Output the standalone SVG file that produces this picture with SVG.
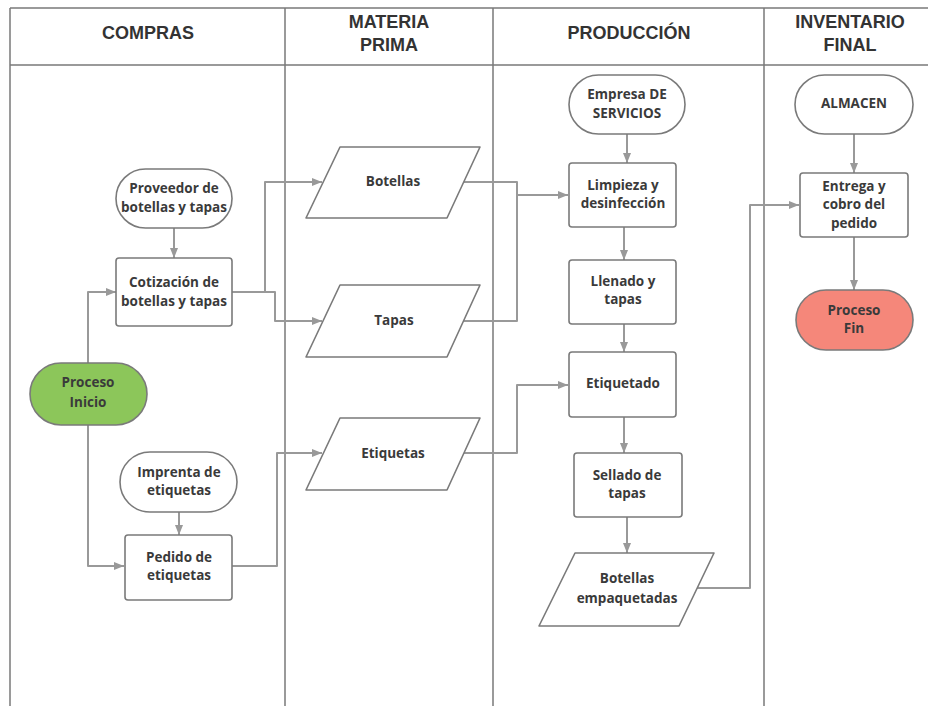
<svg xmlns="http://www.w3.org/2000/svg" width="928" height="706" viewBox="0 0 928 706">
<defs>
<style>
.lane{stroke:#7a7a7a;stroke-width:1.5;fill:none}
.hd{font-family:"Liberation Sans",Arial,sans-serif;font-weight:700;font-size:18px;fill:#333;text-anchor:middle}
.nd{fill:#fff;stroke:#7a7a7a;stroke-width:1.6;stroke-linejoin:round}
.tx{font-family:"Open Sans","Liberation Sans",sans-serif;font-weight:700;font-size:13.5px;fill:#3a3a3a;text-anchor:middle}
.cn{fill:none;stroke:#999;stroke-width:2;stroke-linejoin:round}
</style>
<marker id="ar" viewBox="0 0 10 10" refX="10" refY="5" markerWidth="10" markerHeight="10" markerUnits="userSpaceOnUse" orient="auto">
<path d="M0,1 L10,5 L0,9 Z" fill="#999"/>
</marker>
</defs>
<rect width="928" height="706" fill="#fff"/>
<g id="lanes">
<path class="lane" d="M10,8 H928 M10,65 H928 M10,8 V706 M285,8 V706 M493,8 V706 M764,8 V706"/>
<text class="hd" x="148" y="39">COMPRAS</text>
<text class="hd" x="389" y="28">MATERIA</text>
<text class="hd" x="389" y="51">PRIMA</text>
<text class="hd" x="629" y="39">PRODUCCIÓN</text>
<text class="hd" x="850" y="28">INVENTARIO</text>
<text class="hd" x="850" y="51">FINAL</text>
</g>
<g id="connectors">
<path class="cn" marker-end="url(#ar)" d="M174,228 V258"/>
<path class="cn" marker-end="url(#ar)" d="M88,363 V292 H116"/>
<path class="cn" marker-end="url(#ar)" d="M88,425 V566 H124"/>
<path class="cn" marker-end="url(#ar)" d="M179,512 V535"/>
<path class="cn" marker-end="url(#ar)" d="M232,292 H265 V182 H322"/>
<path class="cn" marker-end="url(#ar)" d="M232,292 H275 V321 H322"/>
<path class="cn" marker-end="url(#ar)" d="M232,566 H277 V453 H322"/>
<path class="cn" d="M463,182 H517 V321 H463"/>
<path class="cn" marker-end="url(#ar)" d="M517,195 H568"/>
<path class="cn" marker-end="url(#ar)" d="M463,453 H517 V385 H568"/>
<path class="cn" marker-end="url(#ar)" d="M627,134 V163"/>
<path class="cn" marker-end="url(#ar)" d="M624,227 V260"/>
<path class="cn" marker-end="url(#ar)" d="M624,324 V352"/>
<path class="cn" marker-end="url(#ar)" d="M624,417 V453"/>
<path class="cn" marker-end="url(#ar)" d="M627,517 V553"/>
<path class="cn" marker-end="url(#ar)" d="M697,588 H750 V205 H799"/>
<path class="cn" marker-end="url(#ar)" d="M854,134 V173"/>
<path class="cn" marker-end="url(#ar)" d="M854,237 V290"/>
</g>
<g id="proveedor">
<rect class="nd" x="116" y="169" width="116" height="59" rx="29.5"/>
<text class="tx" x="174" y="193">Proveedor de</text>
<text class="tx" x="174" y="212">botellas y tapas</text>
</g>
<g id="cotizacion">
<rect class="nd" x="116" y="258" width="116" height="68" rx="3"/>
<text class="tx" x="174" y="287">Cotización de</text>
<text class="tx" x="174" y="306">botellas y tapas</text>
</g>
<g id="inicio">
<rect class="nd" x="30" y="363" width="117" height="62" rx="31" fill="#8cc65a" style="fill:#8cc65a"/>
<text class="tx" x="88" y="387">Proceso</text>
<text class="tx" x="88" y="407">Inicio</text>
</g>
<g id="imprenta">
<rect class="nd" x="120" y="452" width="117" height="60" rx="30"/>
<text class="tx" x="179" y="477">Imprenta de</text>
<text class="tx" x="179" y="495">etiquetas</text>
</g>
<g id="pedido">
<rect class="nd" x="125" y="535" width="107" height="65" rx="3"/>
<text class="tx" x="179" y="562">Pedido de</text>
<text class="tx" x="179" y="580">etiquetas</text>
</g>
<g id="botellas">
<path class="nd" d="M340,147 H480 L447,218 H306 Z"/>
<text class="tx" x="393" y="186">Botellas</text>
</g>
<g id="tapas">
<path class="nd" d="M340,285 H480 L447,357 H306 Z"/>
<text class="tx" x="394" y="325">Tapas</text>
</g>
<g id="etiquetas">
<path class="nd" d="M340,418 H480 L447,490 H306 Z"/>
<text class="tx" x="393" y="458">Etiquetas</text>
</g>
<g id="empresa">
<rect class="nd" x="569" y="75" width="116" height="59" rx="29.5"/>
<text class="tx" x="627" y="99">Empresa DE</text>
<text class="tx" x="627" y="118">SERVICIOS</text>
</g>
<g id="limpieza">
<rect class="nd" x="569" y="163" width="107" height="64" rx="3"/>
<text class="tx" x="623" y="190">Limpieza y</text>
<text class="tx" x="623" y="208">desinfección</text>
</g>
<g id="llenado">
<rect class="nd" x="569" y="260" width="107" height="64" rx="3"/>
<text class="tx" x="623" y="286">Llenado y</text>
<text class="tx" x="623" y="304">tapas</text>
</g>
<g id="etiquetado">
<rect class="nd" x="569" y="352" width="107" height="65" rx="3"/>
<text class="tx" x="623" y="388">Etiquetado</text>
</g>
<g id="sellado">
<rect class="nd" x="574" y="453" width="108" height="64" rx="3"/>
<text class="tx" x="627" y="480">Sellado de</text>
<text class="tx" x="627" y="498">tapas</text>
</g>
<g id="empaquetadas">
<path class="nd" d="M575,553 H714 L679,626 H539 Z"/>
<text class="tx" x="627" y="583">Botellas</text>
<text class="tx" x="627" y="603">empaquetadas</text>
</g>
<g id="almacen">
<rect class="nd" x="795" y="75" width="118" height="59" rx="29.5"/>
<text class="tx" x="854" y="108">ALMACEN</text>
</g>
<g id="entrega">
<rect class="nd" x="800" y="173" width="108" height="64" rx="3"/>
<text class="tx" x="854" y="191">Entrega y</text>
<text class="tx" x="854" y="209">cobro del</text>
<text class="tx" x="854" y="228">pedido</text>
</g>
<g id="fin">
<rect class="nd" x="796" y="290" width="117" height="60" rx="30" style="fill:#f5877a"/>
<text class="tx" x="854" y="315">Proceso</text>
<text class="tx" x="854" y="333">Fin</text>
</g>
</svg>
